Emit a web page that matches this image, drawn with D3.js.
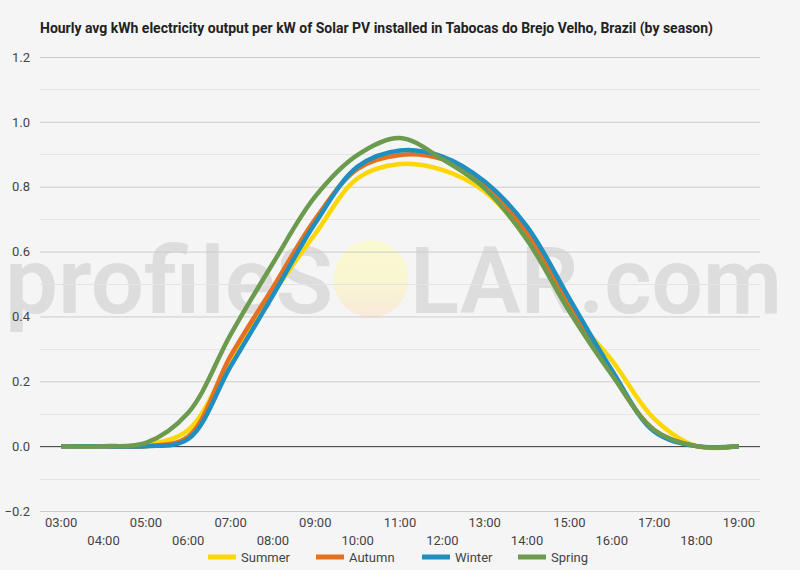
<!DOCTYPE html>
<html>
<head>
<meta charset="utf-8">
<script src="https://cdn.jsdelivr.net/npm/d3@7"></script>
<style>
  body { margin: 0; background: #f5f5f5; }
  text { font-family: Roboto, "Noto Sans", sans-serif; }
</style>
</head>
<body>
<div id="viz"></div>
<script>
// hourly output per kW by season

const hours = ["03:00", "04:00", "05:00", "06:00", "07:00", "08:00", "09:00", "10:00",
               "11:00", "12:00", "13:00", "14:00", "15:00", "16:00", "17:00", "18:00", "19:00"];

const summer = [0, 0, 0.004, 0.05, 0.265, 0.47, 0.655, 0.826, 0.870, 0.852, 0.785, 0.64, 0.42, 0.265, 0.085, 0, 0];
const autumn = [0, 0, 0, 0.03, 0.278, 0.489, 0.70, 0.855, 0.898, 0.885, 0.811, 0.657, 0.43, 0.225, 0.05, 0, 0];
const winter = [0, 0, 0, 0.022, 0.246, 0.465, 0.688, 0.862, 0.912, 0.893, 0.816, 0.677, 0.455, 0.235, 0.045, 0, 0];
const spring = [0, 0, 0.01, 0.103, 0.344, 0.564, 0.77, 0.898, 0.950, 0.885, 0.795, 0.636, 0.415, 0.22, 0.05, 0, 0];

const seasons = ["Summer", "Autumn", "Winter", "Spring"];
const colors = ["#fdd704", "#e5711f", "#1f8fc0", "#6c9b4f"];
const yTicks = [-0.2, 0, 0.2, 0.4, 0.6, 0.8, 1.0, 1.2];

const title = "Hourly avg kWh electricity output per kW of Solar PV installed in Tabocas do Brejo Velho, Brazil (by season)";

function drawChart() {
    const series = [summer, autumn, winter, spring];

    var dimensions = {
        width: 800,
        height: 570,
        margins: {
            left: 40,
            right: 40,
            top: 57,
            bottom: 59
        }
    }
    dimensions.boundedWidth = dimensions.width - dimensions.margins.left - dimensions.margins.right;
    dimensions.boundedHeight = dimensions.height - dimensions.margins.top - dimensions.margins.bottom;

    const svg = d3.select('#viz').append('svg')
        .attr('width', dimensions.width)
        .attr('height', dimensions.height)
        .style('display', 'block');

    svg.append('rect')
        .attr('width', dimensions.width)
        .attr('height', dimensions.height)
        .attr('fill', '#f5f5f5');

    // watermark
    const defs = svg.append('defs');
    const grad = defs.append('linearGradient')
        .attr('id', 'sun').attr('x1', 0).attr('y1', 0).attr('x2', 0).attr('y2', 1);
    grad.append('stop').attr('offset', '0%').attr('stop-color', '#fafad0');
    grad.append('stop').attr('offset', '55%').attr('stop-color', '#f9f5d2');
    grad.append('stop').attr('offset', '100%').attr('stop-color', '#f9e9da');

    const wm = svg.append('g');
    wm.append('text')
        .attr('x', 5).attr('y', 313)
        .attr('textLength', 328).attr('lengthAdjust', 'spacingAndGlyphs')
        .attr('font-size', 93)
        .attr('font-family', '"Open Sans", sans-serif')
        .attr('font-weight', 600)
        .attr('fill', '#dddddd')
        .text('profileS');
    wm.append('ellipse')
        .attr('cx', 371).attr('cy', 279)
        .attr('rx', 37.5).attr('ry', 38.5)
        .attr('fill', 'url(#sun)');
    wm.append('text')
        .attr('x', 410).attr('y', 313)
        .attr('textLength', 372).attr('lengthAdjust', 'spacingAndGlyphs')
        .attr('font-size', 93)
        .attr('font-family', '"Open Sans", sans-serif')
        .attr('font-weight', 600)
        .attr('fill', '#dddddd')
        .text('LAR.com');

    const bounds = svg.append('g')
        .attr('transform', `translate(${dimensions.margins.left}, ${dimensions.margins.top})`);

    const x = d3.scalePoint()
        .domain(hours)
        .range([0, dimensions.boundedWidth])
        .padding(0.5);

    const y = d3.scaleLinear()
        .domain([-0.2, 1.2])
        .range([dimensions.boundedHeight, 0]);

    // minor + major gridlines
    const minor = d3.range(-0.1, 1.2, 0.2);
    bounds.append('g').selectAll('line')
        .data(minor)
        .enter().append('line')
            .attr('x1', 0).attr('x2', dimensions.boundedWidth)
            .attr('y1', d => Math.round(y(d)) + 0.5).attr('y2', d => Math.round(y(d)) + 0.5)
            .attr('stroke', '#e4e4e4');

    const yAxis = d3.axisLeft(y)
        .tickValues(yTicks)
        .tickSize(-dimensions.boundedWidth)
        .tickPadding(10)
        .tickFormat(d3.format('.1f'));

    const yg = bounds.append('g').call(yAxis);
    yg.select('.domain').remove();
    yg.selectAll('.tick line').attr('stroke', d => d === 0 ? '#333' : '#cccccc');
    yg.selectAll('.tick text')
        .attr('font-size', 13)
        .attr('fill', '#444')
        .attr('font-family', 'Roboto, sans-serif');

    // x labels, staggered over two rows
    const xg = bounds.append('g')
        .attr('transform', `translate(0, ${dimensions.boundedHeight})`);
    xg.selectAll('text')
        .data(hours)
        .enter().append('text')
            .attr('x', d => x(d))
            .attr('y', (d, i) => i % 2 === 0 ? 16 : 34)
            .attr('text-anchor', 'middle')
            .attr('font-size', 13)
            .attr('fill', '#444')
            .text(d => d);

    const line = d3.line()
        .x((d, i) => x(hours[i]))
        .y(d => y(d))
        .curve(d3.curveCatmullRom.alpha(0.5));

    bounds.append('g').selectAll('path')
        .data(series)
        .enter().append('path')
            .attr('d', line)
            .attr('fill', 'none')
            .attr('stroke', (d, i) => colors[i])
            .attr('stroke-width', 4.5)
            .attr('stroke-linecap', 'butt')
            .attr('stroke-linejoin', 'round');

    // title
    const t = svg.append('text')
        .attr('x', 40).attr('y', 33)
        .attr('font-size', 14)
        .attr('font-weight', 'bold')
        .attr('fill', '#222')
        .text(title);
    if (t.node().getComputedTextLength() > 673) {
        t.attr('textLength', 673).attr('lengthAdjust', 'spacingAndGlyphs');
    }

    // legend
    const legendX = [208, 316, 422, 518];
    const legend = svg.append('g').attr('transform', 'translate(0, 557)');
    const items = legend.selectAll('g')
        .data(seasons)
        .enter().append('g')
            .attr('transform', (d, i) => `translate(${legendX[i]}, 0)`);
    items.append('rect')
        .attr('x', 0).attr('y', -2.5)
        .attr('width', 28).attr('height', 5)
        .attr('fill', (d, i) => colors[i]);
    items.append('text')
        .attr('x', 33).attr('y', 5)
        .attr('font-size', 13)
        .attr('fill', '#444')
        .text(d => d);
}

drawChart();
</script>
</body>
</html>
